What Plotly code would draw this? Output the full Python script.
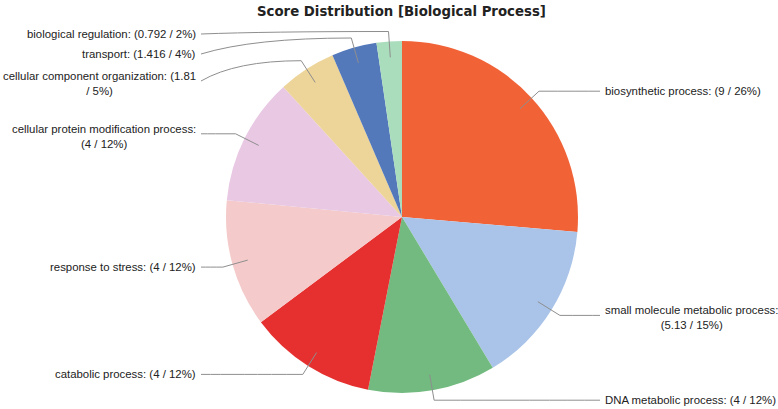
import math
import plotly.graph_objects as go

# ---- data ----
categories = ["biosynthetic process", "small molecule metabolic process", "DNA metabolic process",
              "catabolic process", "response to stress", "cellular protein modification process",
              "cellular component organization", "transport", "biological regulation"]
scores = [9, 5.13, 4, 4, 4, 4, 1.81, 1.416, 0.792]
colors = ["#F26237", "#A9C4E8", "#72BA7F", "#E5302F", "#F4CACA",
          "#E8C8E3", "#EDD498", "#5479BA", "#AADDBC"]
title_text = "Score Distribution [Biological Process]"

# ---- layout constants (pixels) ----
W, H = 778, 409
CX, CY, R = 402, 217, 176
LEFT_END, RIGHT_END = 201, 600
FONT = "Liberation Sans"
FS = 11.4
LINE_H = 14

total = sum(scores)


def wrap(text, maxc):
    words = text.split(" ")
    lines, cur = [], ""
    for w in words:
        cand = (cur + " " + w) if cur else w
        if len(cand) > maxc and cur:
            lines.append(cur)
            cur = w
        else:
            cur = cand
    lines.append(cur)
    return lines


fig = go.Figure()
fig.add_trace(go.Pie(
    labels=categories, values=scores, sort=False, direction="clockwise", rotation=0,
    marker=dict(colors=colors, line=dict(width=0)), textinfo="none", hoverinfo="label+value+percent",
    domain=dict(x=[(CX - R) / W, (CX + R) / W], y=[(H - CY - R) / H, (H - CY + R) / H]),
    showlegend=False,
))

# compute label geometry from the data
items = []
cum = 0.0
for name, v in zip(categories, scores):
    frac = v / total
    th = (cum + frac / 2) * 2 * math.pi
    cum += frac
    s, c = math.sin(th), math.cos(th)
    sx, sy = CX + 0.91 * R * s, CY - 0.91 * R * c
    bx, by = CX + (R + 10) * s, CY - (R + 10) * c
    side = "right" if s > 0 else "left"
    text = f"{name}: ({v:g} / {round(frac * 100)}%)"
    lines = wrap(text, 33 if side == "right" else 38)
    items.append(dict(sx=sx, sy=sy, bx=bx, by=by, side=side, lines=lines, ly=by))

# simple collision avoidance on the left side (top to bottom)
left = sorted([it for it in items if it["side"] == "left"], key=lambda d: d["by"])
prev = None
for it in left:
    h = len(it["lines"]) * LINE_H
    y = max(it["by"], 27 + h / 2)
    if prev is not None:
        y = max(y, prev["ly"] + (len(prev["lines"]) * LINE_H) / 2 + h / 2 + 6)
    it["ly"] = y
    prev = it

shapes = []
annotations = []
for it in items:
    ex = LEFT_END if it["side"] == "left" else RIGHT_END
    qx = ex + 0.35 * (it["bx"] - ex)
    path = (f"M {ex:.1f},{it['ly']:.1f} Q {qx:.1f},{it['by']:.1f} {it['bx']:.1f},{it['by']:.1f} "
            f"L {it['sx']:.1f},{it['sy']:.1f}")
    shapes.append(dict(type="path", path=path, xref="x", yref="y",
                       line=dict(color="#8e8e8e", width=1)))
    n = len(it["lines"])
    annotations.append(dict(
        x=ex - 3 if it["side"] == "left" else ex + 3,
        y=it["ly"] + (n - 1) * 2.5,
        xref="x", yref="y", showarrow=False,
        xanchor="right" if it["side"] == "left" else "left", yanchor="middle",
        align="center", text="<br>".join(it["lines"]),
        font=dict(family=FONT, size=FS, color="#222222"),
    ))

annotations.append(dict(x=401, y=11, xref="x", yref="y", showarrow=False,
                        xanchor="center", yanchor="middle", text=f"<b>{title_text}</b>",
                        font=dict(family="DejaVu Sans", size=13.3, color="#222222")))

fig.add_trace(go.Scatter(x=[], y=[], showlegend=False))
fig.update_layout(
    width=W, height=H, margin=dict(l=0, r=0, t=0, b=0),
    paper_bgcolor="white", plot_bgcolor="rgba(0,0,0,0)",
    xaxis=dict(range=[0, W], visible=False, fixedrange=True),
    yaxis=dict(range=[H, 0], visible=False, fixedrange=True),
    shapes=shapes, annotations=annotations,
)
fig.write_html("out.html", config={"displayModeBar": False},
               post_script="document.body.style.margin='0';")
